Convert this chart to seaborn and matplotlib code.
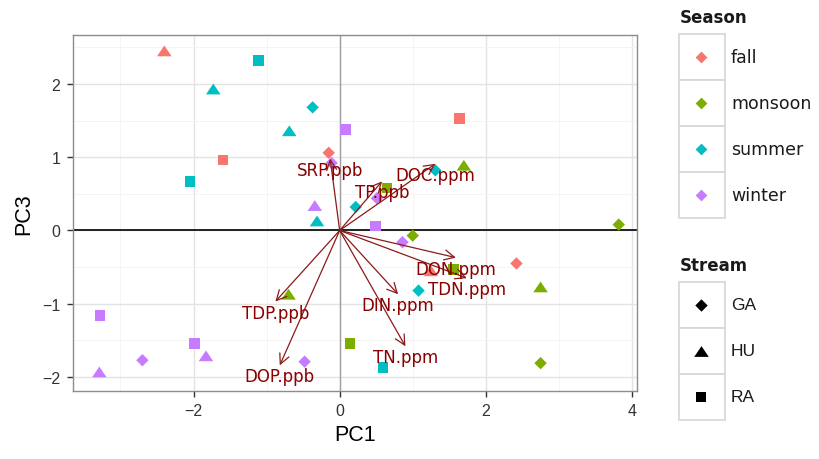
import matplotlib
matplotlib.use("Agg")
import matplotlib.pyplot as plt
from matplotlib.patches import Rectangle
from matplotlib.ticker import MultipleLocator
import pandas as pd
import seaborn as sns

# PCA scores (PC1 vs PC3) for each sample
pc1 = [-2.40, -1.60, -0.15, 1.64, 1.25, 2.42,
       1.70, 0.65, 3.82, 1.00, 1.56, 2.75, 0.14, 2.75, -0.70,
       -1.11, -1.73, -0.37, -0.69, -2.05, -0.31, 1.31, 0.22, 1.08, 0.59,
       0.08, -0.11, -0.34, 0.51, 0.49, 0.86, -3.28, -1.99, -1.83, -2.70, -3.29, -0.48]
pc3 = [2.45, 0.96, 1.06, 1.53, -0.55, -0.45,
       0.89, 0.58, 0.08, -0.07, -0.53, -0.77, -1.54, -1.81, -0.87,
       2.32, 1.93, 1.68, 1.36, 0.67, 0.13, 0.82, 0.32, -0.82, -1.87,
       1.38, 0.92, 0.34, 0.44, 0.06, -0.16, -1.16, -1.54, -1.71, -1.77, -1.93, -1.79]
season = (["fall"] * 6 + ["monsoon"] * 9 + ["summer"] * 10 + ["winter"] * 12)
stream = ["HU", "RA", "GA", "RA", "HU", "GA",
          "HU", "RA", "GA", "GA", "RA", "HU", "RA", "GA", "HU",
          "RA", "HU", "GA", "HU", "RA", "HU", "GA", "GA", "GA", "RA",
          "RA", "GA", "HU", "GA", "RA", "GA", "RA", "RA", "HU", "GA", "HU", "GA"]

# Variable loadings drawn as arrows
loading_names = ["SRP.ppb", "TP.ppb", "DOC.ppm", "DON.ppm", "TDN.ppm",
                 "DIN.ppm", "TN.ppm", "TDP.ppb", "DOP.ppb"]
loading_pc1 = [-0.13, 0.58, 1.31, 1.59, 1.74, 0.80, 0.90, -0.88, -0.82]
loading_pc3 = [0.98, 0.67, 0.91, -0.37, -0.65, -0.87, -1.58, -0.97, -1.84]

season_levels = ["fall", "monsoon", "summer", "winter"]
stream_levels = ["GA", "HU", "RA"]
season_colors = dict(zip(season_levels, ["#F8766D", "#7CAE00", "#00BFC4", "#C77CFF"]))
triangle = [(-1.0, -0.74), (1.0, -0.74), (0.0, 0.74)]
stream_markers = {"GA": "D", "HU": triangle, "RA": "s"}
stream_sizes = {"GA": 40, "HU": 110, "RA": 57}

sns.set_theme(style="white")
plt.rcParams["font.family"] = ["Liberation Sans", "DejaVu Sans"]

W, H = 820, 460
fig = plt.figure(figsize=(W / 100, H / 100), dpi=100)
ax = fig.add_axes([73 / W, 1 - 392 / H, (637 - 73) / W, (392 - 36) / H])

df = pd.DataFrame({"PC1": pc1, "PC3": pc3, "Season": season, "Stream": stream})
sns.scatterplot(data=df, x="PC1", y="PC3", hue="Season", hue_order=season_levels,
                palette=season_colors, style="Stream", style_order=stream_levels,
                markers=stream_markers, size="Stream", sizes=stream_sizes,
                linewidth=0, legend=False, ax=ax, zorder=3)

# loading arrows and their labels
for name, lx, ly in zip(loading_names, loading_pc1, loading_pc3):
    ax.annotate("", xy=(lx, ly), xytext=(0, 0),
                arrowprops=dict(arrowstyle="->,head_length=0.6,head_width=0.3",
                                color="#8B1A1A", lw=0.9, shrinkA=0, shrinkB=0),
                zorder=4)
    ax.text(lx, ly - 0.15, name, color="#8B0000", fontsize=12,
            family="DejaVu Sans", ha="center", va="center", zorder=5)

ax.set_xlim(-3.65, 4.07)
ax.set_ylim(-2.19, 2.667)
ax.xaxis.set_major_locator(MultipleLocator(2))
ax.xaxis.set_minor_locator(MultipleLocator(1))
ax.yaxis.set_major_locator(MultipleLocator(1))
ax.yaxis.set_minor_locator(MultipleLocator(0.5))
ax.set_axisbelow(True)
ax.grid(which="major", color="#E3E3E3", lw=1.0)
ax.grid(which="minor", color="#F3F3F3", lw=0.6)
ax.axvline(0, color="#A0A0A0", lw=1.0, zorder=1)
ax.axhline(0, color="black", lw=1.2, zorder=2)
ax.tick_params(which="minor", length=0)
ax.tick_params(which="major", length=4, width=1, color="#333333",
               labelcolor="#333333", labelsize=11.5, pad=5,
               bottom=True, left=True)
for sp in ax.spines.values():
    sp.set_color("#8C8C8C")
    sp.set_linewidth(1.0)
ax.set_xlabel("PC1", fontsize=15.5, color="black", labelpad=4)
ax.set_ylabel("PC3", fontsize=15.5, color="black", labelpad=6)

# legends, laid out in pixel coordinates
lax = fig.add_axes([0, 0, 1, 1], zorder=10)
lax.set_xlim(0, W)
lax.set_ylim(H, 0)
lax.axis("off")
lax.patch.set_alpha(0)

def legend_block(title, title_y, top, labels, colors, markers, sizes, label_family):
    lax.text(680, title_y, title, fontsize=12, fontweight="bold",
             family="DejaVu Sans", ha="left", va="center", color="#1A1A1A")
    step = 46
    for i, lab in enumerate(labels):
        y0 = top + i * step
        lax.add_patch(Rectangle((679, y0), 46, step, facecolor="white",
                                edgecolor="#D6D6D6", lw=1.2))
        lax.scatter([701], [y0 + step / 2], marker=markers[i], s=sizes[i],
                    color=colors[i], linewidths=0, zorder=3)
        lax.text(731, y0 + step / 2, lab, fontsize=12.5, family=label_family,
                 ha="left", va="center", color="#1A1A1A")

legend_block("Season", 18, 35, season_levels,
             [season_colors[s] for s in season_levels],
             ["D"] * 4, [36] * 4, "DejaVu Sans")
legend_block("Stream", 266, 283, stream_levels, ["black"] * 3,
             [stream_markers[s] for s in stream_levels],
             [stream_sizes[s] for s in stream_levels], "Liberation Sans")

fig.savefig("out.png", dpi=100)
